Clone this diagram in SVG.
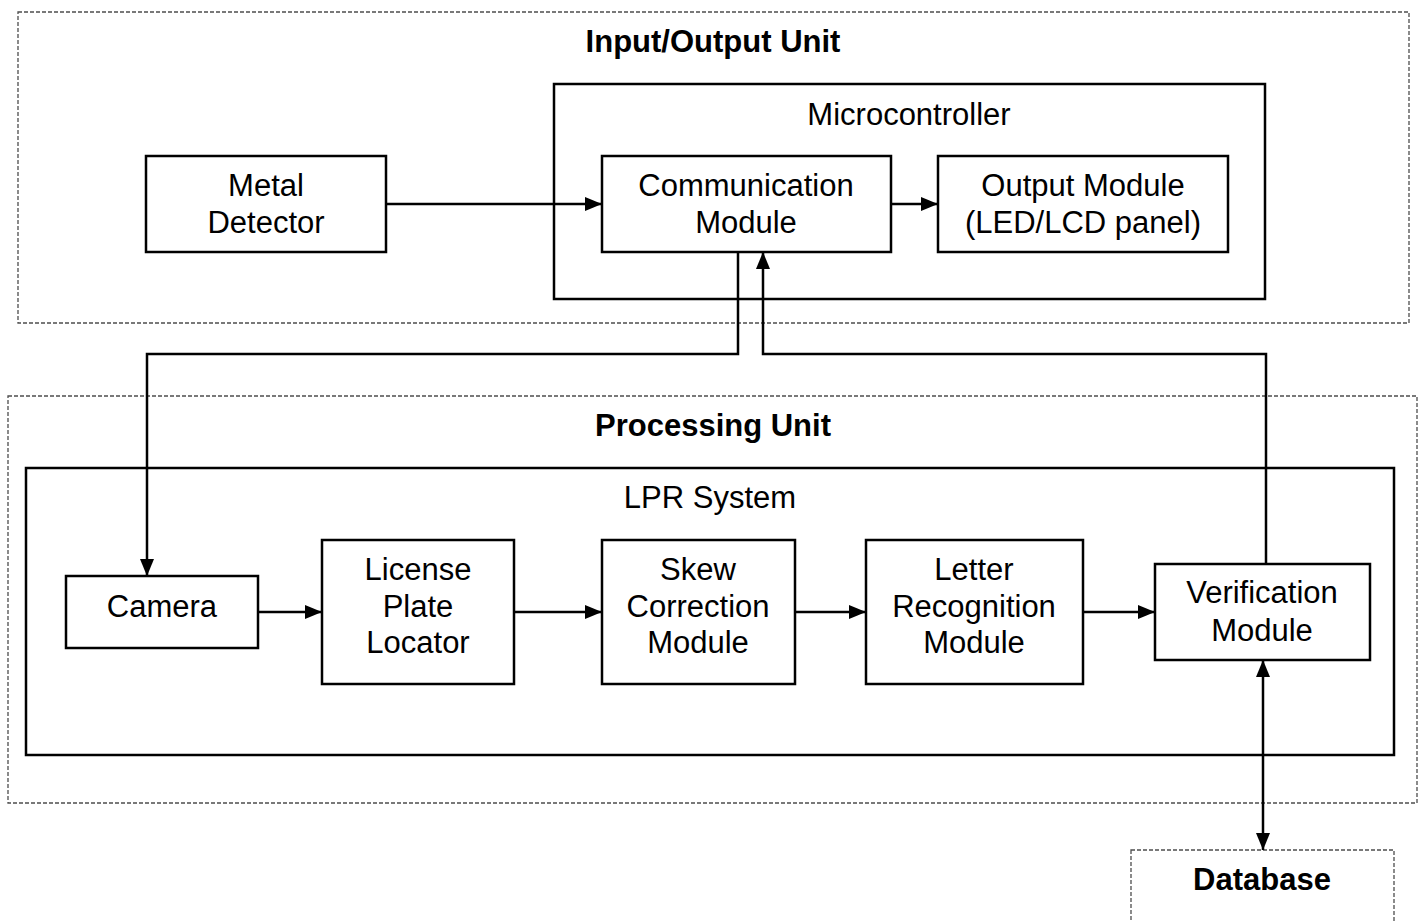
<svg xmlns="http://www.w3.org/2000/svg" width="1419" height="922" viewBox="0 0 1419 922">
  <style>
    .group { fill: none; stroke: #4d4d4d; stroke-width: 1.3; stroke-dasharray: 4 2; }
    .box { fill: #fff; stroke: #000; stroke-width: 2.5; }
    .frame { fill: none; stroke: #000; stroke-width: 2.5; }
    .lbl { font-family: "Liberation Sans", Arial, sans-serif; font-size: 31px; fill: #000; text-anchor: middle; }
    .ttl { font-family: "Liberation Sans", Arial, sans-serif; font-size: 31px; font-weight: bold; fill: #000; text-anchor: middle; }
    .wire { fill: none; stroke: #000; stroke-width: 2.5; }
  </style>
  <defs>
    <!-- filled triangular arrowhead, 17 long x 14 wide -->
    <marker id="arrow" viewBox="0 0 17 14" refX="17" refY="7" markerWidth="17" markerHeight="14" markerUnits="userSpaceOnUse" orient="auto-start-reverse">
      <path d="M0,0 L17,7 L0,14 Z" fill="#000"/>
    </marker>
  </defs>
  <rect width="1419" height="922" fill="#fff"/>

  <!-- Input/Output unit -->
  <g id="io-unit">
    <rect class="group" x="18" y="12" width="1391" height="311"/>
    <text class="ttl" x="713" y="52">Input/Output Unit</text>
  </g>
  <g id="microcontroller">
    <rect class="frame" x="554" y="84" width="711" height="215"/>
    <text class="lbl" x="909" y="125">Microcontroller</text>
  </g>
  <g id="metal-detector">
    <rect class="box" x="146" y="156" width="240" height="96"/>
    <text class="lbl" x="266" y="196">Metal</text>
    <text class="lbl" x="266" y="233">Detector</text>
  </g>
  <g id="communication-module">
    <rect class="box" x="602" y="156" width="289" height="96"/>
    <text class="lbl" x="746" y="196">Communication</text>
    <text class="lbl" x="746" y="233">Module</text>
  </g>
  <g id="output-module">
    <rect class="box" x="938" y="156" width="290" height="96"/>
    <text class="lbl" x="1083" y="196">Output Module</text>
    <text class="lbl" x="1083" y="233">(LED/LCD panel)</text>
  </g>

  <!-- Processing unit -->
  <g id="processing-unit">
    <rect class="group" x="8" y="396" width="1409" height="407"/>
    <text class="ttl" x="713" y="436">Processing Unit</text>
  </g>
  <g id="lpr-system">
    <rect class="frame" x="26" y="468" width="1368" height="287"/>
    <text class="lbl" x="710" y="508">LPR System</text>
  </g>
  <g id="camera">
    <rect class="box" x="66" y="576" width="192" height="72"/>
    <text class="lbl" x="162" y="617">Camera</text>
  </g>
  <g id="plate-locator">
    <rect class="box" x="322" y="540" width="192" height="144"/>
    <text class="lbl" x="418" y="580">License</text>
    <text class="lbl" x="418" y="617">Plate</text>
    <text class="lbl" x="418" y="653">Locator</text>
  </g>
  <g id="skew-correction">
    <rect class="box" x="602" y="540" width="193" height="144"/>
    <text class="lbl" x="698" y="580">Skew</text>
    <text class="lbl" x="698" y="617">Correction</text>
    <text class="lbl" x="698" y="653">Module</text>
  </g>
  <g id="letter-recognition">
    <rect class="box" x="866" y="540" width="217" height="144"/>
    <text class="lbl" x="974" y="580">Letter</text>
    <text class="lbl" x="974" y="617">Recognition</text>
    <text class="lbl" x="974" y="653">Module</text>
  </g>
  <g id="verification-module">
    <rect class="box" x="1155" y="564" width="215" height="96"/>
    <text class="lbl" x="1262" y="603">Verification</text>
    <text class="lbl" x="1262" y="641">Module</text>
  </g>

  <g id="database">
    <rect class="group" x="1131" y="850" width="263" height="90"/>
    <text class="ttl" x="1262" y="890">Database</text>
  </g>

  <!-- Connectors -->
  <g id="connectors">
    <path class="wire" d="M386,204 H602" marker-end="url(#arrow)"/>
    <path class="wire" d="M891,204 H938" marker-end="url(#arrow)"/>
    <path class="wire" d="M738,252 V354 H147 V576" marker-end="url(#arrow)"/>
    <path class="wire" d="M1266,564 V354 H763 V252" marker-end="url(#arrow)"/>
    <path class="wire" d="M258,612 H322" marker-end="url(#arrow)"/>
    <path class="wire" d="M514,612 H602" marker-end="url(#arrow)"/>
    <path class="wire" d="M795,612 H866" marker-end="url(#arrow)"/>
    <path class="wire" d="M1083,612 H1155" marker-end="url(#arrow)"/>
    <path class="wire" d="M1263,660 V850" marker-start="url(#arrow)" marker-end="url(#arrow)"/>
  </g>
</svg>
